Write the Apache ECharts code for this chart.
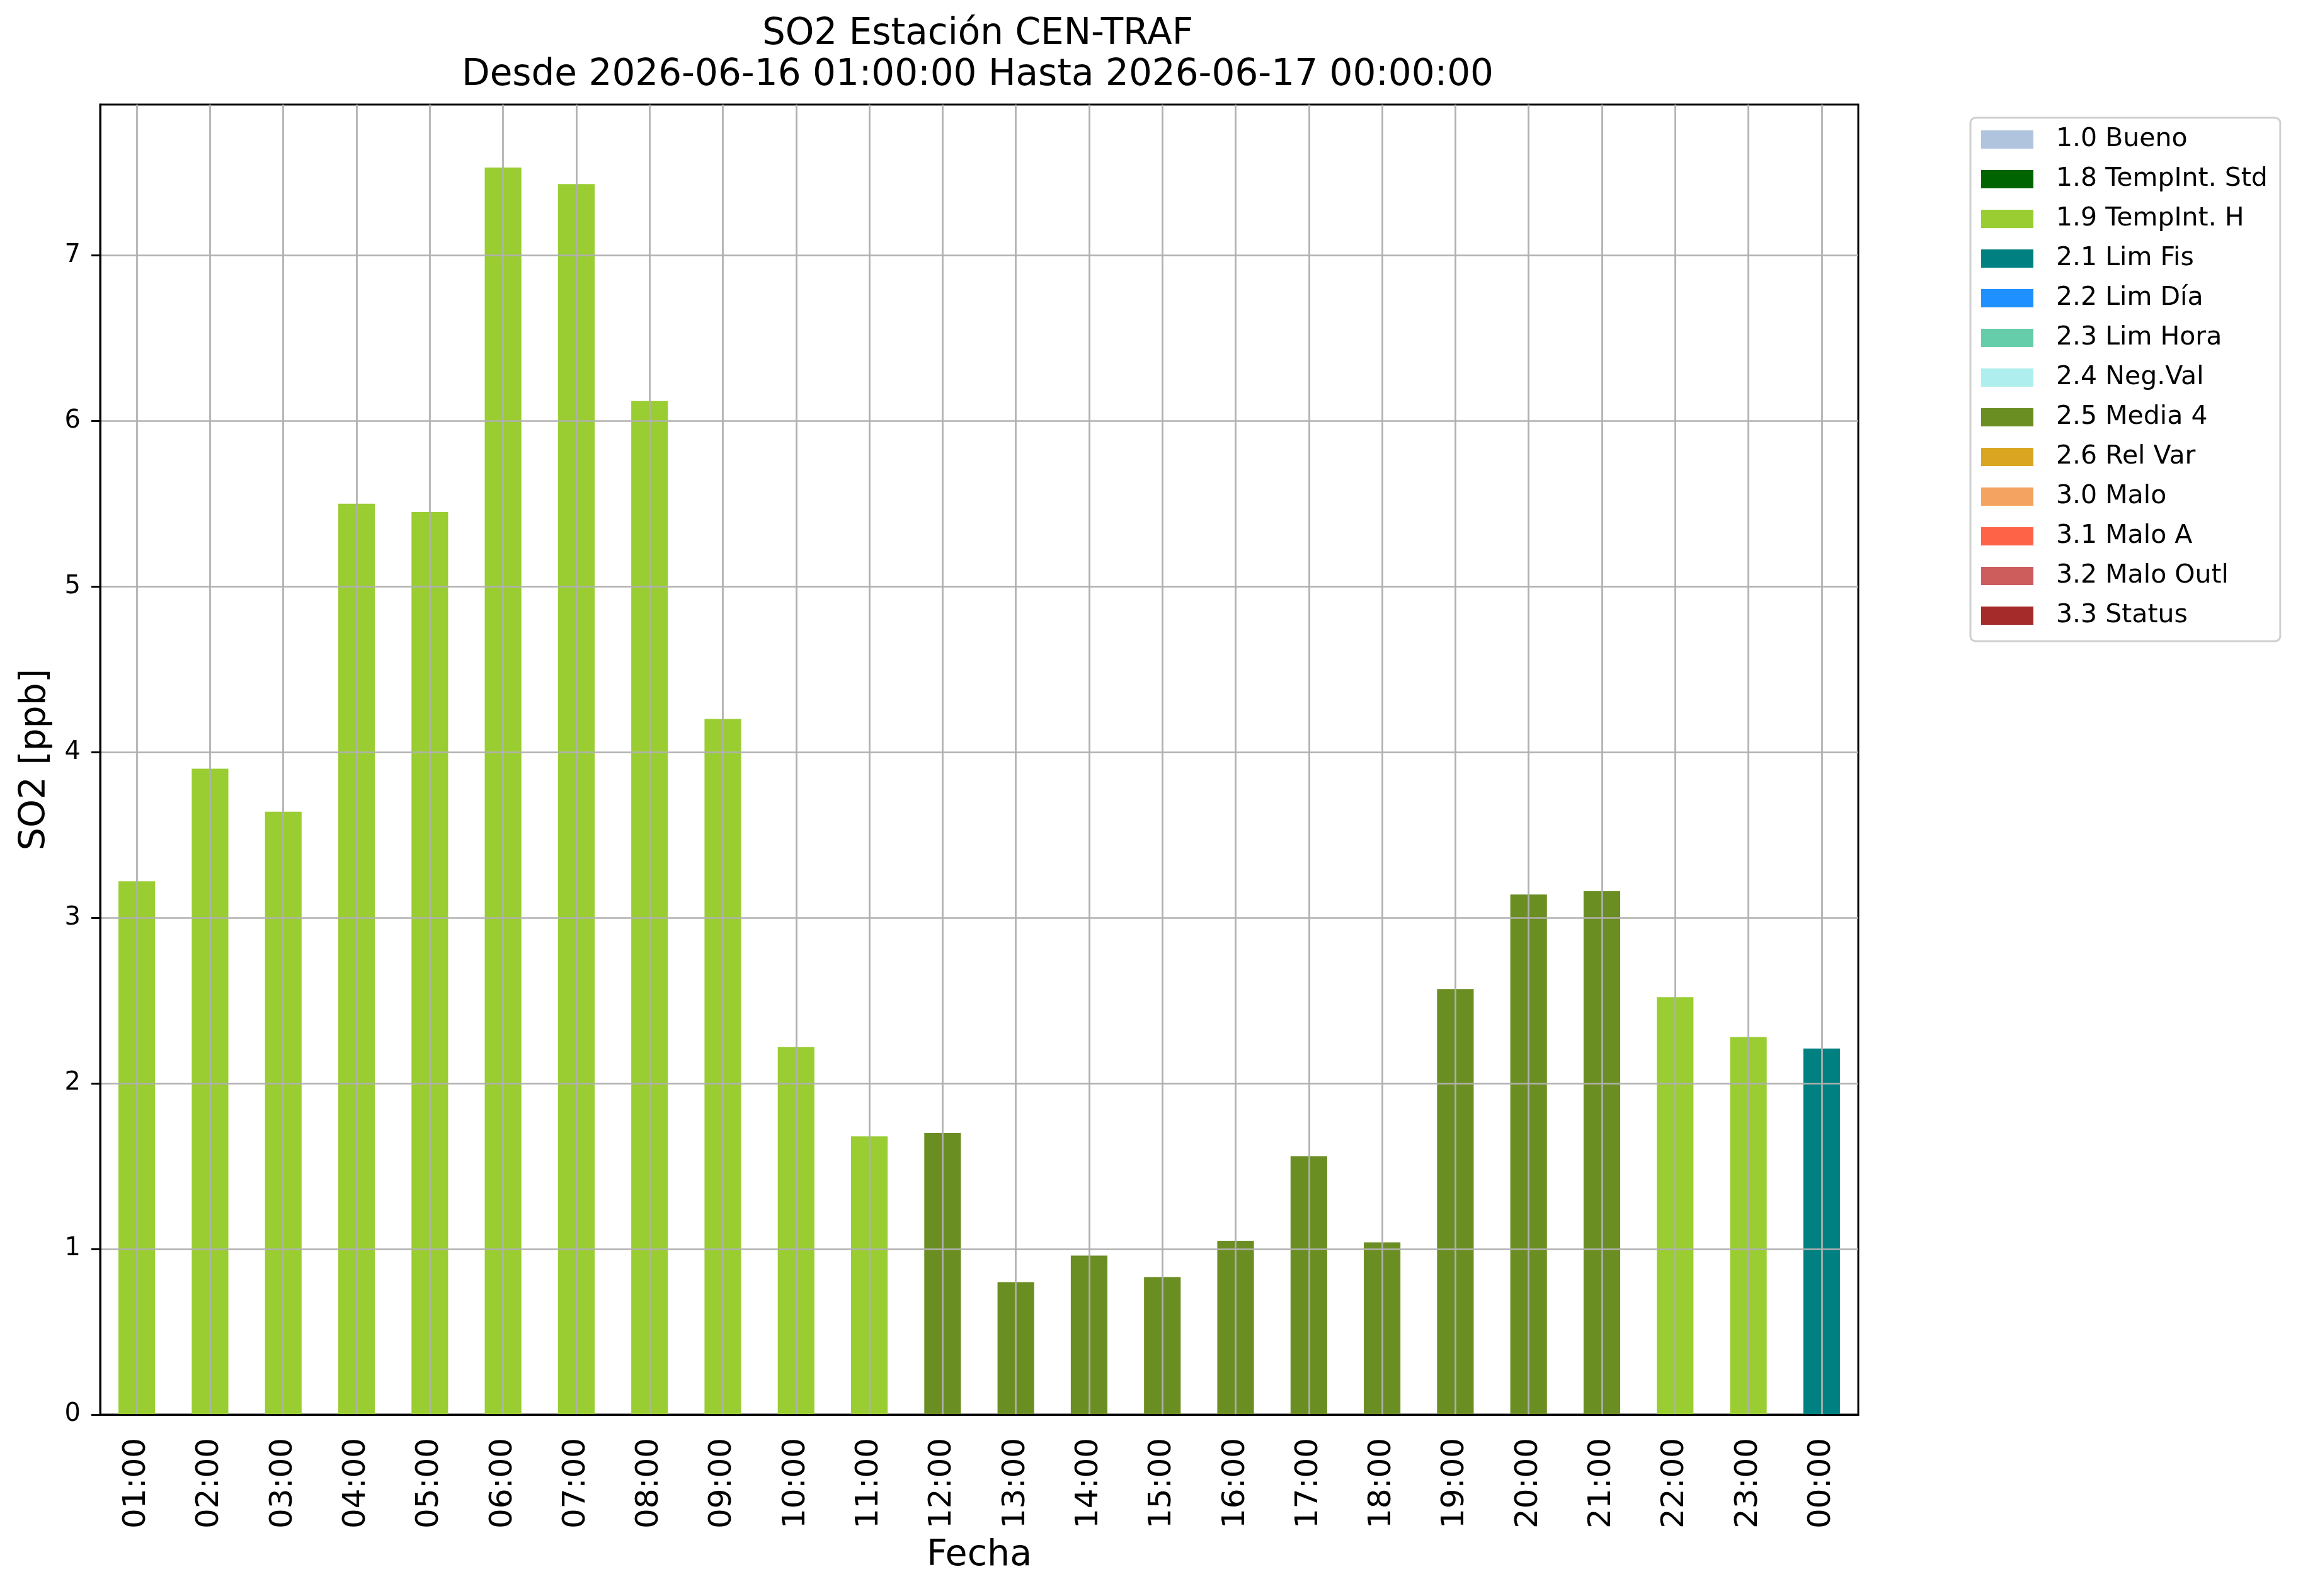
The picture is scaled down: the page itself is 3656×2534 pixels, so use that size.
<!DOCTYPE html>
<html>
<head>
<meta charset="utf-8">
<title>SO2 Estación CEN-TRAF</title>
<script src="https://cdn.jsdelivr.net/npm/echarts@6/dist/echarts.min.js"></script>
<style>
	html, body { margin: 0; padding: 0; background: #ffffff; }
	#main { width: 3656px; height: 2534px; }
</style>
</head>
<body>
<div id="main"></div>
<script>
// horas del eje x
let hours = ['01:00', '02:00', '03:00', '04:00', '05:00', '06:00', '07:00', '08:00',
	'09:00', '10:00', '11:00', '12:00', '13:00', '14:00', '15:00', '16:00',
	'17:00', '18:00', '19:00', '20:00', '21:00', '22:00', '23:00', '00:00']

// valores SO2 [ppb]
let so2Values = [3.22, 3.90, 3.64, 5.50, 5.45, 7.53, 7.43, 6.12,
	4.20, 2.22, 1.68, 1.70, 0.80, 0.96, 0.83, 1.05,
	1.56, 1.04, 2.57, 3.14, 3.16, 2.52, 2.28, 2.21]

// flag de validacion de cada hora
let hourFlags = ['1.9 TempInt. H', '1.9 TempInt. H', '1.9 TempInt. H', '1.9 TempInt. H',
	'1.9 TempInt. H', '1.9 TempInt. H', '1.9 TempInt. H', '1.9 TempInt. H',
	'1.9 TempInt. H', '1.9 TempInt. H', '1.9 TempInt. H', '2.5 Media 4',
	'2.5 Media 4', '2.5 Media 4', '2.5 Media 4', '2.5 Media 4',
	'2.5 Media 4', '2.5 Media 4', '2.5 Media 4', '2.5 Media 4',
	'2.5 Media 4', '1.9 TempInt. H', '1.9 TempInt. H', '2.1 Lim Fis']

// leyenda: nombres y colores de los flags
let flagNames = ['1.0 Bueno', '1.8 TempInt. Std', '1.9 TempInt. H', '2.1 Lim Fis',
	'2.2 Lim Día', '2.3 Lim Hora', '2.4 Neg.Val', '2.5 Media 4', '2.6 Rel Var',
	'3.0 Malo', '3.1 Malo A', '3.2 Malo Outl', '3.3 Status']
let flagColors = ['#b0c4de', '#006400', '#9acd32', '#008080',
	'#1e90ff', '#66cdaa', '#afeeee', '#6b8e23', '#daa520',
	'#f4a460', '#ff6347', '#cd5c5c', '#a52a2a']

let yTicks = [0, 1, 2, 3, 4, 5, 6, 7]
let yMax = 7.91

let font = 'DejaVu Sans'

let myChart = echarts.init(document.getElementById('main'), null, {renderer: 'canvas', devicePixelRatio: 1})

// una serie por flag, apiladas para que queden centradas en la hora
let series = []
for (let i = 0; i < flagNames.length; i++) {
	let data = []
	for (let j = 0; j < hours.length; j++) {
		data.push(hourFlags[j] == flagNames[i] ? so2Values[j] : '-')
	}
	series.push({
		name: flagNames[i],
		type: 'bar',
		stack: 'flag',
		barWidth: '50%',
		itemStyle: {color: flagColors[i]},
		data: data
	})
}

let option = {
	backgroundColor: '#ffffff',
	animation: false,
	textStyle: {fontFamily: font},
	title: {
		text: 'SO2 Estación CEN-TRAF\nDesde 2026-06-16 01:00:00 Hasta 2026-06-17 00:00:00',
		left: 1552,
		top: 22,
		textAlign: 'center',
		padding: 0,
		textStyle: {
			fontFamily: font,
			fontSize: 58,
			fontWeight: 'normal',
			lineHeight: 65,
			color: '#000000'
		}
	},
	legend: {
		data: flagNames,
		orient: 'vertical',
		left: 3128,
		top: 187,
		padding: [14, 20, 20, 17],
		itemWidth: 83,
		itemHeight: 29,
		itemGap: 22,
		icon: 'rect',
		selectedMode: false,
		borderColor: '#d0d0d0',
		borderWidth: 3,
		borderRadius: 8,
		textStyle: {
			fontFamily: font,
			fontSize: 41,
			lineHeight: 41,
			color: '#000000',
			padding: [0, 0, 0, 31]
		}
	},
	grid: {
		left: 159,
		top: 166,
		right: 706,
		bottom: 288,
		show: true,
		borderColor: '#000000',
		borderWidth: 3,
		containLabel: false
	},
	xAxis: {
		type: 'category',
		data: hours,
		z: 5,
		name: 'Fecha',
		nameLocation: 'middle',
		nameGap: 196,
		nameTextStyle: {fontFamily: font, fontSize: 57, color: '#000000'},
		axisLine: {lineStyle: {color: '#000000', width: 3}},
		axisTick: {alignWithLabel: true, length: 14, lineStyle: {color: '#000000', width: 3}},
		axisLabel: {rotate: 90, margin: 37, fontSize: 50, fontFamily: font, color: '#000000', interval: 0},
		splitLine: {show: true, alignWithLabel: true, lineStyle: {color: '#b0b0b0', width: 2.7}}
	},
	yAxis: {
		type: 'value',
		min: 0,
		max: yMax,
		interval: 1,
		z: 5,
		name: 'SO2 [ppb]',
		nameLocation: 'middle',
		nameGap: 74,
		nameTextStyle: {fontFamily: font, fontSize: 57, color: '#000000'},
		axisLine: {show: true, lineStyle: {color: '#000000', width: 3}},
		axisTick: {show: true, length: 14, customValues: yTicks, lineStyle: {color: '#000000', width: 3}},
		axisLabel: {margin: 31, fontSize: 40, fontFamily: font, color: '#000000', customValues: yTicks},
		splitLine: {show: true, lineStyle: {color: '#b0b0b0', width: 2.7}}
	},
	series: series
}

myChart.setOption(option)
</script>
</body>
</html>
